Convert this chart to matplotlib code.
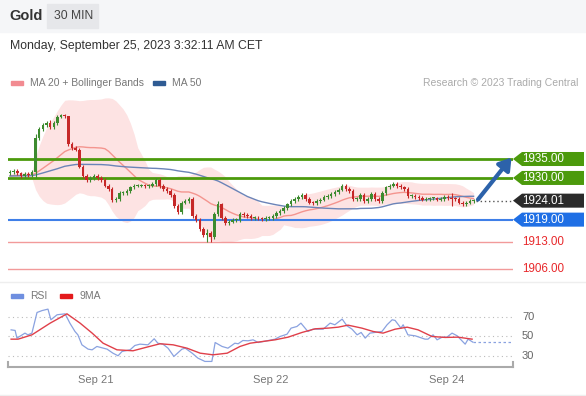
import pandas as pd
import matplotlib
matplotlib.use("Agg")
import matplotlib.pyplot as plt
from matplotlib.patches import Rectangle, Polygon
from matplotlib.lines import Line2D
from matplotlib.transforms import blended_transform_factory

plt.rcParams['font.family'] = ['Liberation Sans', 'DejaVu Sans']

# 30 min closes (bar index = position)
closes = [1931.5, 1931.8, 1931.2, 1930.5, 1931.0, 1930.8, 1931.5,
          1940.5,
          1943.0, 1944.0, 1944.5, 1943.5, 1944.5, 1946.0, 1946.5, 1946.3, 1939.0,
          1938.0, 1937.5, 1933.0, 1930.5, 1929.5, 1930.0, 1930.5, 1930.0, 1929.5,
          1928.0, 1927.0, 1924.2, 1924.5, 1926.0, 1926.0, 1926.5, 1927.5, 1928.0,
          1928.0, 1928.0, 1927.8, 1928.0, 1928.3, 1929.5, 1927.8, 1927.0, 1926.5,
          1925.5, 1922.5, 1921.0, 1923.5, 1924.0, 1924.5, 1920.0, 1919.0, 1916.5,
          1915.0, 1915.5, 1914.5, 1920.5, 1923.0, 1919.5, 1918.0,
          1918.5, 1919.0, 1919.0, 1920.5, 1920.2, 1920.0, 1919.5, 1919.5, 1919.3,
          1919.2, 1919.5, 1919.5, 1920.0, 1920.8, 1921.3, 1922.0, 1923.0, 1924.0,
          1924.5, 1925.0, 1925.5,
          1924.5, 1923.5, 1923.3, 1924.0, 1924.3, 1925.0, 1925.3, 1925.8, 1926.3,
          1926.8, 1927.8, 1927.0, 1926.5, 1924.5, 1924.5, 1925.5, 1924.0, 1924.5,
          1925.8, 1924.5, 1924.0,
          1926.0, 1927.5, 1928.0, 1928.5, 1927.8, 1927.5, 1927.0,
          1925.2, 1925.2, 1925.0, 1924.8, 1924.3, 1924.5, 1924.6, 1924.6, 1924.3,
          1924.5, 1925.0, 1924.6, 1924.5, 1924.4, 1923.5, 1923.0, 1923.5, 1924.0,
          1924.01]
first_open = 1931.2
earlier_level = 1930.5   # bars before the window, only to warm up the averages
# long wicks seen on the chart: bar -> (high, low)
wicks = {7: (1941.5, 1930.0), 11: (1945.3, 1943.0), 14: (1947.0, 1945.8),
         16: (1946.3, 1938.5), 54: (1916.5, 1913.0), 55: (1916.0, 1913.0),
         57: (1924.0, 1920.0), 91: (1928.5, 1926.5), 121: (1926.0, 1922.5)}

green_levels = [1935.0, 1930.0]
blue_level = 1919.0
red_levels = [1913.0, 1906.0]
last_price = 1924.01

rsi_x = [0.3, 1.4, 1.9, 4.1, 4.9, 6.0, 7.4, 8.8, 10.4, 11.2, 12.9, 15.1, 16.4,
         17.8, 18.6, 19.7, 21.4, 22.5, 23.8, 26.6, 28.2, 29.6, 30.7, 32.9, 34.2,
         35.6, 37.8, 39.5, 40.5, 41.9, 43.3, 44.9, 47.1, 48.0, 49.9, 51.5, 53.4,
         55.3, 56.2, 58.1, 59.7, 61.6, 62.5, 63.8, 65.2, 66.6, 68.0, 72.6, 74.0,
         75.9, 77.0, 78.6, 79.7, 81.6, 83.0, 85.8, 87.7, 89.0, 91.0, 92.3, 93.7,
         95.1, 96.2, 97.3, 98.6, 101.9, 103.3, 104.7, 105.5, 107.1, 107.7, 109.0,
         111.0, 113.7, 114.5, 115.9, 117.0, 118.4, 119.7, 121.1, 122.5, 124.7,
         125.5, 126.8]
rsi_val = [56.9, 56.3, 48.3, 53.5, 51.7, 53.5, 75.0, 77.0, 78.5, 67.4, 72.6, 73.6,
           63.9, 55.2, 51.7, 41.3, 36.8, 36.1, 39.6, 36.8, 32.6, 29.9, 34.4, 36.1,
           40.6, 42.0, 41.3, 47.6, 43.0, 42.0, 37.8, 29.2, 36.8, 37.8, 32.6, 27.4,
           24.0, 24.0, 43.7, 39.6, 37.8, 43.0, 42.4, 45.8, 45.5, 46.5, 43.7, 47.2,
           50.0, 52.4, 58.7, 60.4, 63.9, 55.2, 57.6, 57.6, 63.9, 62.2, 68.1, 61.1,
           57.6, 51.7, 54.2, 48.3, 53.5, 55.2, 62.2, 67.4, 66.7, 58.7, 62.2, 51.7,
           50.7, 47.2, 47.2, 51.7, 46.5, 49.3, 49.3, 53.5, 50.7, 42.0, 47.2, 44.1]
ma9_x = [0.3, 2.2, 6.0, 11.0, 15.6, 19.2, 22.5, 25.5, 29.3, 33.7, 37.5, 41.1, 44.7,
         48.5, 52.1, 55.6, 59.5, 63.0, 65.8, 67.9, 72.6, 76.2, 80.0, 83.6, 87.1,
         89.9, 92.6, 96.4, 99.5, 102.2, 105.5, 108.8, 111.8, 115.6, 119.2, 122.7,
         126.6]
ma9_val = [47.2, 47.2, 51.7, 63.9, 73.6, 63.9, 53.5, 43.0, 36.1, 35.1, 38.9, 42.4,
           41.3, 37.8, 32.6, 30.9, 32.6, 39.6, 43.0, 44.1, 46.5, 49.3, 54.2, 58.0,
           58.7, 59.7, 61.8, 58.7, 55.2, 53.5, 57.6, 59.7, 56.9, 50.0, 49.0, 49.3,
           47.2]
rsi_levels = [70, 50, 30]
date_ticks = [23.5, 71.5, 119.5]
date_labels = ['Sep 21', 'Sep 22', 'Sep 24']

# indicators
full = pd.Series([earlier_level] * 49 + closes)
ma20 = full.rolling(20).mean().iloc[49:].values
sd20 = full.rolling(20).std(ddof=0).iloc[49:].values
ma50 = full.rolling(50).mean().iloc[49:].values
bars = list(range(len(closes)))

W, H = 586, 396
fig = plt.figure(figsize=(W / 100, H / 100), dpi=100)


def frac(x0, y0, x1, y1):
    return [x0 / W, 1 - y1 / H, (x1 - x0) / W, (y1 - y0) / H]


# header
fig.add_artist(Rectangle((0, 1 - 32 / H), 1, 32 / H, transform=fig.transFigure,
                         color='#f5f6f8', zorder=0))
fig.add_artist(Rectangle((47 / W, 1 - 28 / H), 51 / W, 24 / H, transform=fig.transFigure,
                         color='#e6e7ea', zorder=1))
fig.text(9 / W, 1 - 16 / H, 'Gold', weight='bold', size=10.5, color='#333333', va='center')
fig.text(54 / W, 1 - 16 / H, '30 MIN', size=8.7, color='#444444', va='center')
fig.text(10 / W, 1 - 46 / H, 'Monday, September 25, 2023 3:32:11 AM CET', size=8.8,
         color='#333333', va='center')
for y in [282, 395]:
    fig.add_artist(Line2D([0, 1], [1 - y / H] * 2, color='#eeeeee', lw=1))

# legends
fig.add_artist(Rectangle((11 / W, 1 - 85 / H), 12 / W, 4 / H, transform=fig.transFigure, color='#f28b91'))
fig.text(30 / W, 1 - 83 / H, 'MA 20 + Bollinger Bands', size=7.5, color='#777777', va='center')
fig.add_artist(Rectangle((153 / W, 1 - 85 / H), 12 / W, 4 / H, transform=fig.transFigure, color='#2f5b93'))
fig.text(172 / W, 1 - 83 / H, 'MA 50', size=7.5, color='#777777', va='center')
fig.text(578 / W, 1 - 83 / H, 'Research © 2023 Trading Central', size=7.5, color='#aaaaaa',
         va='center', ha='right')
fig.add_artist(Rectangle((11 / W, 1 - 298 / H), 12 / W, 4 / H, transform=fig.transFigure, color='#6f8fe0'))
fig.text(30 / W, 1 - 296 / H, 'RSI', size=7.5, color='#777777', va='center')
fig.add_artist(Rectangle((60 / W, 1 - 298 / H), 12 / W, 4 / H, transform=fig.transFigure, color='#e31a1c'))
fig.text(79 / W, 1 - 296 / H, '9MA', size=7.5, color='#777777', va='center')

# price panel
ax = fig.add_axes(frac(8, 95, 513, 280))
ax.set_xlim(-0.55, 137.8)
ax.set_ylim(1903.07, 1951.89)
ax.axis('off')

ax.fill_between(bars, ma20 - 2 * sd20, ma20 + 2 * sd20, color='#fde3e3', lw=0, zorder=1)
ax.plot(bars, ma20, color='#f4958f', lw=1, zorder=2)
ax.plot(bars, ma50, color='#6b84b8', lw=1, zorder=2)

for g in green_levels:
    ax.axhline(g, color='#4c9a0c', lw=2, zorder=3)
ax.axhline(blue_level, color='#3f7fe8', lw=1.5, zorder=3)
for r in red_levels:
    ax.axhline(r, color='#f29a9a', lw=1, zorder=3)

for i, c in enumerate(closes):
    o = closes[i - 1] if i > 0 else first_open
    hi, lo = wicks.get(i, (max(o, c) + 0.5, min(o, c) - 0.5))
    col = '#3d8b2f' if c >= o else '#c62828'
    ax.vlines(i, lo, hi, color=col, lw=0.8, zorder=4)
    ax.bar(i, max(abs(c - o), 0.25), bottom=min(o, c), width=0.7, color=col, zorder=5)

ax.plot([len(closes) - 0.4, 137.8], [last_price] * 2, color='#555555', lw=1,
        ls=(0, (1, 2)), zorder=3, clip_on=False)

ax.annotate('', xy=(137.4, 1935.4), xytext=(128.2, 1924.3), annotation_clip=False,
            arrowprops=dict(arrowstyle='-|>,head_length=0.7,head_width=0.45', color='#2c62aa',
                            lw=3, shrinkA=0, shrinkB=0), zorder=6)

blend = blended_transform_factory(ax.transAxes, ax.transData)
x0, x1, x2 = 1.0, (522 - 8) / 505, (584 - 8) / 505
hh = 1.85


def tag(y, txt, color):
    ax.add_patch(Polygon([(x0, y), (x1, y + hh), (x2, y + hh), (x2, y - hh), (x1, y - hh)],
                         closed=True, transform=blend, clip_on=False, fc=color, ec='none', zorder=7))
    ax.text(x1, y, txt, transform=blend, color='white', size=8.4, va='center', zorder=8)


for g in green_levels:
    tag(g, f'{g:.2f}', '#4c9a0c')
tag(last_price, f'{last_price:.2f}', '#2b2b2b')
tag(blue_level, f'{blue_level:.2f}', '#1f6fe5')
for r in red_levels:
    ax.text(x1, r, f'{r:.2f}', transform=blend, color='#e8282b', size=8.4, va='center')

# RSI panel
ax2 = fig.add_axes(frac(8, 300, 513, 367))
ax2.set_xlim(-0.55, 137.8)
ax2.set_ylim(18.2, 88.0)
for s in ['top', 'left', 'right']:
    ax2.spines[s].set_visible(False)
ax2.spines['bottom'].set_color('#aaaaaa')
ax2.spines['bottom'].set_linewidth(1.5)
ax2.set_yticks([])
ax2.set_xticks(date_ticks, date_labels)
ax2.tick_params(axis='x', length=0, labelsize=8, labelcolor='#777777', pad=6)
ax2.axvline(-0.55, ymin=0, ymax=0.08, color='#aaaaaa', lw=1.5, clip_on=False)
ax2.axvline(137.8, ymin=0, ymax=0.08, color='#aaaaaa', lw=1.5, clip_on=False)
b2 = blended_transform_factory(ax2.transAxes, ax2.transData)
for lv in rsi_levels:
    ax2.axhline(lv, color='#bbbbbb', lw=0.8, ls=(0, (1, 3)))
    ax2.text(x1, lv, str(lv), transform=b2, size=8, color='#666666', va='center')
ax2.plot(rsi_x, rsi_val, color='#8aa2e0', lw=0.9)
ax2.plot([rsi_x[-1], 137.8], [rsi_val[-1]] * 2, color='#8aa2e0', lw=0.9, ls=(0, (2, 2)))
ax2.plot(ma9_x, ma9_val, color='#e0404a', lw=1)

fig.savefig('out.png', dpi=100)
